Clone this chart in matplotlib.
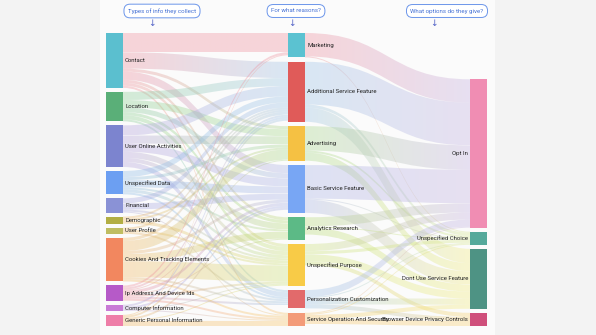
import numpy as np
import matplotlib.pyplot as plt
import matplotlib.colors as mcolors
from matplotlib.path import Path
from matplotlib.patches import PathPatch, Rectangle

plt.rcParams['font.family'] = ['Roboto', 'DejaVu Sans']

# --- data -------------------------------------------------------------
info_types = ["Contact", "Location", "User Online Activities", "Unspecified Data",
              "Financial", "Demographic", "User Profile", "Cookies And Tracking Elements",
              "Ip Address And Device Ids", "Computer Information", "Generic Personal Information"]
reasons = ["Marketing", "Additional Service Feature", "Advertising", "Basic Service Feature",
           "Analytics Research", "Unspecified Purpose", "Personalization Customization",
           "Service Operation And Security"]
options = ["Opt In", "Unspecified Choice", "Dont Use Service Feature",
           "Browser Device Privacy Controls"]

headers = ["Types of info they collect", "For what reasons?", "What options do they give?"]

# info type -> reason
info_to_reason = [
    ("Contact", "Marketing", 19), ("Contact", "Additional Service Feature", 16),
    ("Contact", "Advertising", 3), ("Contact", "Basic Service Feature", 8),
    ("Contact", "Analytics Research", 3), ("Contact", "Unspecified Purpose", 3),
    ("Contact", "Service Operation And Security", 2),
    ("Location", "Additional Service Feature", 8), ("Location", "Advertising", 7),
    ("Location", "Basic Service Feature", 5), ("Location", "Analytics Research", 3),
    ("Location", "Unspecified Purpose", 4), ("Location", "Personalization Customization", 2),
    ("User Online Activities", "Additional Service Feature", 10),
    ("User Online Activities", "Advertising", 8),
    ("User Online Activities", "Basic Service Feature", 8),
    ("User Online Activities", "Analytics Research", 6),
    ("User Online Activities", "Unspecified Purpose", 4),
    ("User Online Activities", "Personalization Customization", 5),
    ("Unspecified Data", "Additional Service Feature", 6), ("Unspecified Data", "Advertising", 3),
    ("Unspecified Data", "Basic Service Feature", 7), ("Unspecified Data", "Analytics Research", 2),
    ("Unspecified Data", "Unspecified Purpose", 3),
    ("Unspecified Data", "Personalization Customization", 2),
    ("Financial", "Additional Service Feature", 5), ("Financial", "Basic Service Feature", 6),
    ("Financial", "Unspecified Purpose", 2), ("Financial", "Service Operation And Security", 1),
    ("Demographic", "Additional Service Feature", 2), ("Demographic", "Advertising", 2),
    ("Demographic", "Unspecified Purpose", 3),
    ("User Profile", "Additional Service Feature", 2), ("User Profile", "Unspecified Purpose", 2),
    ("User Profile", "Personalization Customization", 2),
    ("Cookies And Tracking Elements", "Additional Service Feature", 3),
    ("Cookies And Tracking Elements", "Advertising", 10),
    ("Cookies And Tracking Elements", "Basic Service Feature", 3),
    ("Cookies And Tracking Elements", "Analytics Research", 7),
    ("Cookies And Tracking Elements", "Unspecified Purpose", 16),
    ("Cookies And Tracking Elements", "Personalization Customization", 2),
    ("Cookies And Tracking Elements", "Service Operation And Security", 2),
    ("Ip Address And Device Ids", "Marketing", 2),
    ("Ip Address And Device Ids", "Additional Service Feature", 2),
    ("Ip Address And Device Ids", "Advertising", 1),
    ("Ip Address And Device Ids", "Basic Service Feature", 3),
    ("Ip Address And Device Ids", "Analytics Research", 1),
    ("Ip Address And Device Ids", "Unspecified Purpose", 2),
    ("Ip Address And Device Ids", "Personalization Customization", 2),
    ("Ip Address And Device Ids", "Service Operation And Security", 2),
    ("Computer Information", "Additional Service Feature", 2),
    ("Computer Information", "Basic Service Feature", 2),
    ("Computer Information", "Unspecified Purpose", 1),
    ("Computer Information", "Service Operation And Security", 1),
    ("Generic Personal Information", "Marketing", 1),
    ("Generic Personal Information", "Additional Service Feature", 2),
    ("Generic Personal Information", "Basic Service Feature", 2),
    ("Generic Personal Information", "Unspecified Purpose", 1),
    ("Generic Personal Information", "Service Operation And Security", 5),
]

# reason -> option
reason_to_option = [
    ("Marketing", "Opt In", 23), ("Marketing", "Unspecified Choice", 1),
    ("Additional Service Feature", "Opt In", 42), ("Additional Service Feature", "Unspecified Choice", 3),
    ("Additional Service Feature", "Dont Use Service Feature", 14),
    ("Advertising", "Opt In", 24), ("Advertising", "Unspecified Choice", 2),
    ("Advertising", "Dont Use Service Feature", 8),
    ("Basic Service Feature", "Opt In", 33), ("Basic Service Feature", "Unspecified Choice", 1),
    ("Basic Service Feature", "Dont Use Service Feature", 13),
    ("Analytics Research", "Opt In", 9), ("Analytics Research", "Unspecified Choice", 1),
    ("Analytics Research", "Dont Use Service Feature", 7),
    ("Unspecified Purpose", "Opt In", 7), ("Unspecified Purpose", "Unspecified Choice", 3),
    ("Unspecified Purpose", "Dont Use Service Feature", 7),
    ("Unspecified Purpose", "Browser Device Privacy Controls", 4),
    ("Personalization Customization", "Opt In", 7),
    ("Personalization Customization", "Unspecified Choice", 1),
    ("Personalization Customization", "Dont Use Service Feature", 6),
    ("Personalization Customization", "Browser Device Privacy Controls", 4),
    ("Service Operation And Security", "Opt In", 1),
    ("Service Operation And Security", "Unspecified Choice", 1),
    ("Service Operation And Security", "Dont Use Service Feature", 4),
    ("Service Operation And Security", "Browser Device Privacy Controls", 5),
]

# bar colours
node_colors = {
    "Contact": "#5bbfcf", "Location": "#5aaf78", "User Online Activities": "#7c84cf",
    "Unspecified Data": "#6c9ff2", "Financial": "#8a92d6", "Demographic": "#b2ae44",
    "User Profile": "#bfbd62", "Cookies And Tracking Elements": "#f2875f",
    "Ip Address And Device Ids": "#b65ac8", "Computer Information": "#c97bd6",
    "Generic Personal Information": "#ee7ea8",
    "Marketing": "#5bc2d1", "Additional Service Feature": "#e05b59", "Advertising": "#f5c143",
    "Basic Service Feature": "#78a6f4", "Analytics Research": "#5cba86",
    "Unspecified Purpose": "#f8cb47", "Personalization Customization": "#e26a6b",
    "Service Operation And Security": "#f39b79",
    "Opt In": "#f08db3", "Unspecified Choice": "#55a99b",
    "Dont Use Service Feature": "#4e9384", "Browser Device Privacy Controls": "#cf4f7b",
}

# ribbon colours (each ribbon fades from its source's to its target's)
flow_colors = {
    "Contact": "#ee8f9c", "Location": "#8ccf94", "User Online Activities": "#b5a2dc",
    "Unspecified Data": "#8fbbe6", "Financial": "#a9a6df", "Demographic": "#f2b865",
    "User Profile": "#f2b865", "Cookies And Tracking Elements": "#f2b865",
    "Ip Address And Device Ids": "#ee8f9c", "Computer Information": "#b5a2dc",
    "Generic Personal Information": "#f2b865",
    "Marketing": "#ee8f9c", "Additional Service Feature": "#9cc3e6", "Advertising": "#a8d88a",
    "Basic Service Feature": "#a9b4e6", "Analytics Research": "#b8dc7a",
    "Unspecified Purpose": "#cde37a", "Personalization Customization": "#9cc3e6",
    "Service Operation And Security": "#f7c56a",
    "Opt In": "#c3b0e0", "Unspecified Choice": "#d8e890",
    "Dont Use Service Feature": "#f2ec80", "Browser Device Privacy Controls": "#f7d070",
}

# --- layout -----------------------------------------------------------
W, H = 596, 335
columns = [info_types, reasons, options]
col_x = [106, 288, 470]
node_w = 17
top, bottom = 33, 326
pad = 4
links = info_to_reason + reason_to_option

inflow = {}
outflow = {}
for s, t, v in links:
    outflow[s] = outflow.get(s, 0) + v
    inflow[t] = inflow.get(t, 0) + v
value = {n: max(inflow.get(n, 0), outflow.get(n, 0)) for col in columns for n in col}

ky = min((bottom - top - (len(col) - 1) * pad) / sum(value[n] for n in col) for col in columns)

node_x, node_y0, node_y1 = {}, {}, {}
for ci, col in enumerate(columns):
    heights = [value[n] * ky for n in col]
    if ci < 2:
        gap = (bottom - top - sum(heights)) / (len(col) - 1)
        y = top
    else:
        gap = pad
        y = bottom - sum(heights) - gap * (len(col) - 1)
    for n, h in zip(col, heights):
        node_x[n] = col_x[ci]
        node_y0[n] = y
        node_y1[n] = y + h
        y += h + gap

# stack ribbon ends on each bar
src_off = {n: node_y0[n] for n in node_x}
tgt_off = {n: node_y0[n] for n in node_x}
out_sorted = sorted(range(len(links)), key=lambda i: (links[i][0], node_y0[links[i][1]]))
src_pos = {}
for i in out_sorted:
    s, t, v = links[i]
    src_pos[i] = src_off[s]
    src_off[s] += v * ky
in_sorted = sorted(range(len(links)), key=lambda i: (links[i][1], node_y0[links[i][0]]))
tgt_pos = {}
for i in in_sorted:
    s, t, v = links[i]
    tgt_pos[i] = tgt_off[t]
    tgt_off[t] += v * ky

# --- drawing ----------------------------------------------------------
fig = plt.figure(figsize=(5.96, 3.35), dpi=100, facecolor="#f3f3f3")
ax = fig.add_axes([0, 0, 1, 1])
ax.set_facecolor("#f3f3f3")
ax.add_patch(Rectangle((100, 0), 395, H, facecolor="#fbfbfb", edgecolor="none", zorder=0))

alpha = 0.36
for i, (s, t, v) in enumerate(links):
    w = v * ky
    x0 = node_x[s] + node_w
    x1 = node_x[t]
    xm = (x0 + x1) / 2
    ys, yt = src_pos[i], tgt_pos[i]
    verts = [(x0, ys), (xm, ys), (xm, yt), (x1, yt),
             (x1, yt + w), (xm, yt + w), (xm, ys + w), (x0, ys + w), (x0, ys)]
    codes = [Path.MOVETO, Path.CURVE4, Path.CURVE4, Path.CURVE4,
             Path.LINETO, Path.CURVE4, Path.CURVE4, Path.CURVE4, Path.CLOSEPOLY]
    patch = PathPatch(Path(verts, codes), facecolor="none", edgecolor="none")
    ax.add_patch(patch)
    c0 = np.array(mcolors.to_rgb(flow_colors[s]))
    c1 = np.array(mcolors.to_rgb(flow_colors[t]))
    f = np.linspace(0, 1, 64)[:, None]
    grad = np.ones((1, 64, 4))
    grad[0, :, :3] = c0 * (1 - f) + c1 * f
    grad[0, :, 3] = alpha
    lo = min(ys, yt)
    hi = max(ys, yt) + w
    im = ax.imshow(grad, extent=(x0, x1, hi, lo), aspect="auto",
                   interpolation="bilinear", zorder=1)
    im.set_clip_path(patch)

label_size = 4.3
for ci, col in enumerate(columns):
    for n in col:
        ax.add_patch(Rectangle((node_x[n], node_y0[n]), node_w, node_y1[n] - node_y0[n],
                               facecolor=node_colors[n], edgecolor="none", zorder=2))
        yc = (node_y0[n] + node_y1[n]) / 2
        if ci < 2:
            ax.text(node_x[n] + node_w + 2, yc, n, ha="left", va="center",
                    fontsize=label_size, color="#222222", zorder=3)
        else:
            ax.text(node_x[n] - 2, yc, n, ha="right", va="center",
                    fontsize=label_size, color="#222222", zorder=4)

# column headings
pill_x = [162, 296, 447]
arrow_x = [152, 292, 434]
for label, px, axx in zip(headers, pill_x, arrow_x):
    ax.text(px, 11, label, ha="center", va="center", fontsize=4.4, color="#4470d4",
            bbox=dict(boxstyle="round,pad=0.65,rounding_size=1.0", facecolor="white",
                      edgecolor="#6b95ea", linewidth=0.7), zorder=4)
    ax.text(axx, 24, "\u2193", ha="center", va="center", fontsize=6.5,
            color="#5262c6", family="DejaVu Sans", zorder=4)

ax.set_xlim(0, W)
ax.set_ylim(H, 0)
ax.axis("off")

fig.savefig("out.png", dpi=100, facecolor=fig.get_facecolor())
